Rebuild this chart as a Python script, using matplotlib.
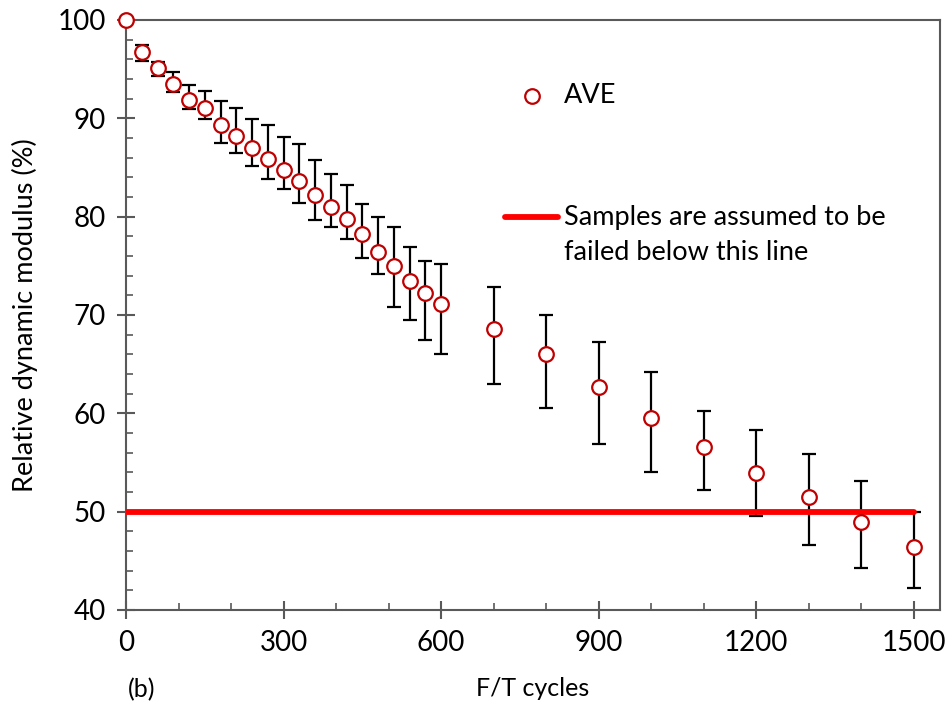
import numpy as np
import matplotlib
matplotlib.use('Agg')
import matplotlib.pyplot as plt
from matplotlib.ticker import MultipleLocator

plt.rcParams['font.family'] = ['Lato', 'DejaVu Sans']

# F/T cycles
cycles = [0, 30, 60, 90, 120, 150, 180, 210, 240, 270, 300, 330, 360, 390, 420,
          450, 480, 510, 540, 570, 600, 700, 800, 900, 1000, 1100, 1200, 1300,
          1400, 1500]
# average relative dynamic modulus (%)
ave = [100, 96.7, 95.1, 93.5, 91.9, 91.0, 89.3, 88.2, 86.95, 85.9, 84.75, 83.65,
       82.2, 80.95, 79.75, 78.2, 76.4, 74.95, 73.45, 72.2, 71.1, 68.6, 66.0,
       62.65, 59.5, 56.6, 53.9, 51.45, 48.95, 46.4]
# error bar ends
upper = [100, 97.5, 95.7, 94.7, 93.4, 92.8, 91.8, 91.05, 89.95, 89.3, 88.1, 87.35,
         85.75, 84.35, 83.2, 81.3, 80.0, 78.9, 76.9, 75.5, 75.15, 72.8, 69.95,
         67.3, 64.25, 60.25, 58.3, 55.9, 53.1, 50.0]
lower = [100, 95.8, 94.3, 92.7, 90.9, 89.9, 87.5, 86.5, 85.15, 83.8, 82.8, 81.4,
         79.65, 78.9, 77.75, 75.8, 74.2, 70.85, 69.5, 67.5, 66.05, 62.95, 60.5,
         56.9, 54.0, 52.2, 49.6, 46.6, 44.3, 42.2]
fail_level = 50
fail_x = [0, 1500]

x = np.array(cycles)
y = np.array(ave)
yerr = [y - np.array(lower), np.array(upper) - y]

fig = plt.figure(figsize=(9.48, 7.10), dpi=100)
ax = fig.add_axes([126/948, 1-610/710, (940-126)/948, 590/710])

ax.errorbar(x, y, yerr=yerr, fmt='none', ecolor='black', elinewidth=1.6,
            capsize=5, capthick=1.6, zorder=2)
ax.plot(fail_x, [fail_level, fail_level], color='#ff0000', lw=4.2,
        solid_capstyle='round', zorder=3)
ax.plot(x, y, 'o', ms=10.5, mfc='white', mec='#c00000', mew=1.6,
        zorder=4, clip_on=False)

ax.set_xlim(0, 1550)
ax.set_ylim(40, 100)
ax.xaxis.set_major_locator(MultipleLocator(300))
ax.xaxis.set_minor_locator(MultipleLocator(100))
ax.yaxis.set_major_locator(MultipleLocator(10))
ax.yaxis.set_minor_locator(MultipleLocator(2))

spine_c = '#595959'
for s in ax.spines.values():
    s.set_color(spine_c)
    s.set_linewidth(1.5)
ax.tick_params(which='major', direction='inout', length=13, width=1.5,
               color=spine_c, labelsize=20, pad=8)
ax.tick_params(which='minor', direction='in', length=5, width=1.2,
               color=spine_c)

ax.set_xlabel('F/T cycles', fontsize=18, labelpad=15)
ax.set_ylabel('Relative dynamic modulus (%)', fontsize=19.5, labelpad=14)
fig.text(128/948, 1-690/710, '(b)', fontsize=18, va='center', ha='left')

# legend entries, placed by hand like the original
tr = ax.transAxes
ax.plot([0.4988], [0.8712], 'o', ms=10.5, mfc='white', mec='#c00000',
        mew=1.6, transform=tr, clip_on=False)
ax.text(0.5381, 0.8712, 'AVE', transform=tr, fontsize=19.5, va='center',
        ha='left')
ax.plot([0.4656, 0.5307], [0.6661, 0.6661], color='#ff0000', lw=4.2,
        solid_capstyle='round', transform=tr, clip_on=False)
ax.text(0.5381, 0.6661 + 0.020, 'Samples are assumed to be\nfailed below this line',
        transform=tr, fontsize=19.5, va='top', ha='left', linespacing=1.48)

fig.savefig('out.png', dpi=100)
